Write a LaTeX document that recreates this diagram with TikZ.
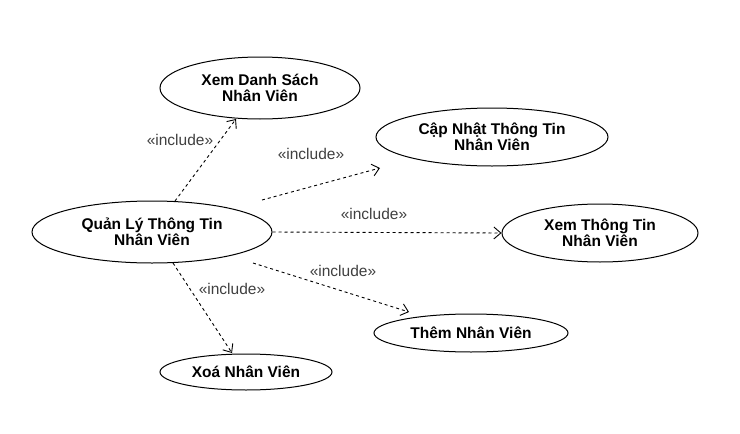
\documentclass[tikz,border=0pt]{standalone}
\usepackage{fontspec}
\setmainfont{Liberation Sans}
\usetikzlibrary{shapes.geometric,arrows.meta}
\tikzset{
  usecase/.style={draw=black, line width=1pt, ellipse, inner sep=0pt, align=center,
    font=\fontsize{15.5}{15.5}\selectfont\bfseries},
  incl/.style={draw=black, line width=0.9pt, dash pattern=on 3pt off 3pt,
    -{Straight Barb[length=7pt,width=12pt,line width=0.9pt]}},
  incllabel/.style={text=black!75, inner sep=0pt, font=\fontsize{15.5}{15.5}\selectfont}
}
\begin{document}
\begin{tikzpicture}[x=1pt,y=-1pt]
\useasboundingbox[fill=white] (0,0) rectangle (740,434);
\node[usecase, minimum width=240pt, minimum height=62pt] (main) at (152,232) {Quản Lý Thông Tin\\Nhân Viên};
\node[usecase, minimum width=200pt, minimum height=62pt] (xds) at (260,88) {Xem Danh Sách\\Nhân Viên};
\node[usecase, minimum width=232pt, minimum height=58pt] (cn) at (492,137) {Cập Nhật Thông Tin\\Nhân Viên};
\node[usecase, minimum width=196pt, minimum height=58pt] (xtt) at (600,233) {Xem Thông Tin\\Nhân Viên};
\node[usecase, minimum width=194pt, minimum height=38pt] (them) at (471,333) {Thêm Nhân Viên};
\node[usecase, minimum width=172pt, minimum height=36pt] (xoa) at (246,372) {Xoá Nhân Viên};

\coordinate (a1) at (175,201);
\coordinate (a2) at (236,119);
\coordinate (b1) at (262,200);
\coordinate (b2) at (380,168);
\coordinate (d1) at (253,263);
\coordinate (d2) at (409,312);
\coordinate (e1) at (173,263);
\coordinate (e2) at (232,353);

\draw[incl] (a1) -- (a2);
\draw[incl] (b1) -- (b2);
\draw[incl] (main.east) -- (xtt.west);
\draw[incl] (d1) -- (d2);
\draw[incl] (e1) -- (e2);

\node[incllabel] (la) at (180,140) {«include»};
\node[incllabel] (lb) at (311,154) {«include»};
\node[incllabel] (lc) at (374,214) {«include»};
\node[incllabel] (ld) at (343,271) {«include»};
\node[incllabel] (le) at (232,289) {«include»};
\end{tikzpicture}
\end{document}
